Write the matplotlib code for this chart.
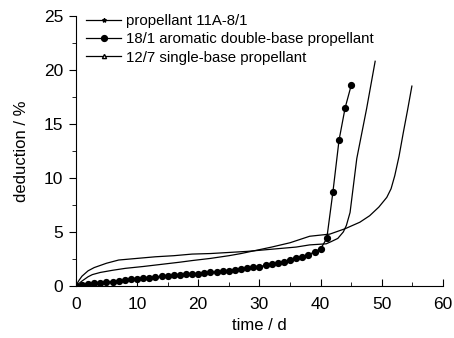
import matplotlib
matplotlib.use("Agg")
import matplotlib.pyplot as plt
from matplotlib.lines import Line2D
from matplotlib.ticker import MultipleLocator

plt.rcParams["font.family"] = ["Liberation Sans Narrow", "Liberation Sans", "DejaVu Sans"]

# propellant 11A-8/1
t_a = [0, 0.5, 1, 2, 3, 4, 5, 6, 7, 8, 10, 13, 16, 19, 22, 25, 28, 30, 33, 36, 38.2, 40.9,
       41.7, 42.8, 43.7, 44.2, 44.8, 45.9, 47.5, 48.9]
d_a = [0, 0.5, 0.9, 1.4, 1.7, 1.9, 2.1, 2.25, 2.4, 2.45, 2.55, 2.7, 2.8, 2.95, 3.0, 3.1, 3.2, 3.3, 3.45, 3.6, 3.8, 3.9,
       4.1, 4.4, 5.0, 5.6, 6.8, 11.8, 16.4, 20.8]

# 18/1 aromatic double-base propellant
t_b = list(range(0, 41)) + [41, 42, 43, 44, 45]
d_b = [0, 0.12, 0.2, 0.25, 0.3, 0.35, 0.4, 0.45, 0.52, 0.6, 0.68, 0.72, 0.77, 0.82, 0.88, 0.95,
       0.98, 1.02, 1.06, 1.1, 1.15, 1.2, 1.25, 1.3, 1.35, 1.42, 1.5, 1.56, 1.64, 1.72, 1.8,
       1.9, 2.0, 2.1, 2.25, 2.4, 2.55, 2.7, 2.9, 3.15, 3.45,
       4.4, 8.7, 13.5, 16.5, 18.6]

# 12/7 single-base propellant
t_c = [0, 1, 2, 2.7, 4, 6, 8.1, 11, 14, 17, 19, 22, 25, 27, 29.5, 32, 35, 38.2, 41.5, 44, 46.4,
       48, 49.5, 50.8, 51.5, 52.1, 52.8, 53.5, 54.2, 54.9]
d_c = [0, 0.45, 0.85, 1.05, 1.25, 1.45, 1.63, 1.8, 2.0, 2.2, 2.35, 2.55, 2.8, 3.0, 3.3, 3.6, 4.0, 4.6, 4.8, 5.3, 5.9,
       6.5, 7.3, 8.2, 9.0, 10.2, 12.0, 14.2, 16.3, 18.5]

fig = plt.figure(figsize=(4.54, 3.38), dpi=100)
ax = fig.add_axes([0.167, 0.154, 0.809, 0.799])

ax.plot(t_a, d_a, color="black", lw=0.9)
ax.plot(t_b, d_b, color="black", lw=0.9, marker="o", markersize=4.2)
ax.plot(t_c, d_c, color="black", lw=0.9)

ax.set_xlim(0, 60)
ax.set_ylim(0, 25)
ax.xaxis.set_major_locator(MultipleLocator(10))
ax.xaxis.set_minor_locator(MultipleLocator(5))
ax.yaxis.set_major_locator(MultipleLocator(5))
ax.yaxis.set_minor_locator(MultipleLocator(2.5))
ax.spines["top"].set_visible(False)
ax.spines["right"].set_visible(False)
ax.tick_params(axis="x", which="both", direction="in", labelsize=12.5, pad=8)
ax.tick_params(axis="y", which="both", direction="out", labelsize=12.5, pad=4)
ax.tick_params(which="major", length=5)
ax.tick_params(which="minor", length=3)
ax.set_xlabel("time / d", fontsize=12, labelpad=4)
ax.set_ylabel("deduction / %", fontsize=12, labelpad=11)

handles = [
    Line2D([], [], color="black", lw=0.9, marker="*", markersize=3),
    Line2D([], [], color="black", lw=0.9, marker="o", markersize=4.2),
    Line2D([], [], color="black", lw=0.9, marker="^", markersize=3, markerfacecolor="white"),
]
labels = ["propellant 11A-8/1", "18/1 aromatic double-base propellant", "12/7 single-base propellant"]
ax.legend(handles, labels, loc="upper left", bbox_to_anchor=(0.0, 1.045), frameon=False,
          fontsize=10.8, handlelength=2.3, handletextpad=0.35, labelspacing=0.28, borderaxespad=0.3)

fig.savefig("out.png", dpi=100)
